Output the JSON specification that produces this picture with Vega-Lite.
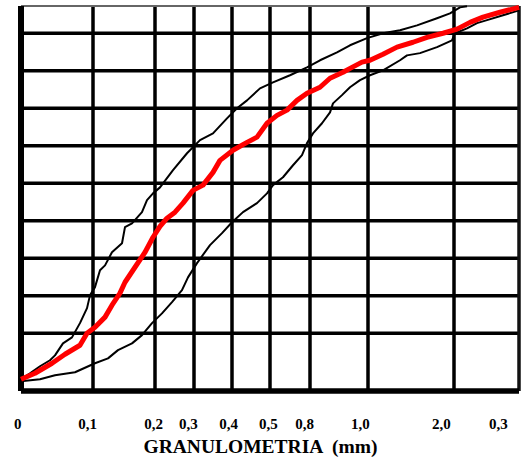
{
  "$schema": "https://vega.github.io/schema/vega-lite/v6.json",
  "width": 498,
  "height": 385,
  "autosize": {"type": "none"},
  "padding": {"left": 21, "top": 6, "right": 8, "bottom": 75},
  "background": "white",
  "config": {"view": {"stroke": null}},
  "datasets": {
    "curves": [
      {"curva": "media", "d": 0, "p": -2.27},
      {"curva": "media", "d": 0.0194, "p": -0.67},
      {"curva": "media", "d": 0.0431, "p": 2.0},
      {"curva": "media", "d": 0.0611, "p": 4.4},
      {"curva": "media", "d": 0.0819, "p": 6.8},
      {"curva": "media", "d": 0.0917, "p": 10.0},
      {"curva": "media", "d": 0.1032, "p": 11.6},
      {"curva": "media", "d": 0.1194, "p": 14.3},
      {"curva": "media", "d": 0.1306, "p": 17.5},
      {"curva": "media", "d": 0.1435, "p": 20.7},
      {"curva": "media", "d": 0.1516, "p": 23.6},
      {"curva": "media", "d": 0.1677, "p": 27.6},
      {"curva": "media", "d": 0.1839, "p": 31.6},
      {"curva": "media", "d": 0.1968, "p": 35.6},
      {"curva": "media", "d": 0.2128, "p": 38.5},
      {"curva": "media", "d": 0.2308, "p": 40.7},
      {"curva": "media", "d": 0.2513, "p": 42.3},
      {"curva": "media", "d": 0.2718, "p": 44.7},
      {"curva": "media", "d": 0.2974, "p": 48.1},
      {"curva": "media", "d": 0.3237, "p": 49.5},
      {"curva": "media", "d": 0.35, "p": 52.9},
      {"curva": "media", "d": 0.3684, "p": 56.1},
      {"curva": "media", "d": 0.4026, "p": 58.8},
      {"curva": "media", "d": 0.4395, "p": 60.9},
      {"curva": "media", "d": 0.4658, "p": 62.3},
      {"curva": "media", "d": 0.4921, "p": 66.0},
      {"curva": "media", "d": 0.5525, "p": 68.1},
      {"curva": "media", "d": 0.6275, "p": 69.5},
      {"curva": "media", "d": 0.7025, "p": 72.1},
      {"curva": "media", "d": 0.7775, "p": 74.0},
      {"curva": "media", "d": 0.8345, "p": 75.6},
      {"curva": "media", "d": 0.869, "p": 78.0},
      {"curva": "media", "d": 0.9138, "p": 79.6},
      {"curva": "media", "d": 0.9448, "p": 80.9},
      {"curva": "media", "d": 0.9793, "p": 82.3},
      {"curva": "media", "d": 1.0233, "p": 82.8},
      {"curva": "media", "d": 1.1744, "p": 84.4},
      {"curva": "media", "d": 1.3372, "p": 86.3},
      {"curva": "media", "d": 1.5233, "p": 87.6},
      {"curva": "media", "d": 1.686, "p": 88.9},
      {"curva": "media", "d": 1.8721, "p": 90.0},
      {"curva": "media", "d": 2.0462, "p": 91.1},
      {"curva": "media", "d": 2.2462, "p": 92.9},
      {"curva": "media", "d": 2.4462, "p": 94.3},
      {"curva": "media", "d": 2.7077, "p": 95.6},
      {"curva": "media", "d": 3.0, "p": 96.9},
      {"curva": "superior", "d": 0, "p": -2.3},
      {"curva": "superior", "d": 0.0125, "p": -0.7},
      {"curva": "superior", "d": 0.0264, "p": 1.2},
      {"curva": "superior", "d": 0.0403, "p": 2.8},
      {"curva": "superior", "d": 0.0472, "p": 4.1},
      {"curva": "superior", "d": 0.0583, "p": 7.3},
      {"curva": "superior", "d": 0.0708, "p": 8.9},
      {"curva": "superior", "d": 0.0819, "p": 12.7},
      {"curva": "superior", "d": 0.0917, "p": 16.7},
      {"curva": "superior", "d": 0.0958, "p": 20.1},
      {"curva": "superior", "d": 0.1032, "p": 22.3},
      {"curva": "superior", "d": 0.1113, "p": 26.8},
      {"curva": "superior", "d": 0.1194, "p": 28.1},
      {"curva": "superior", "d": 0.1306, "p": 31.6},
      {"curva": "superior", "d": 0.1468, "p": 34.0},
      {"curva": "superior", "d": 0.1516, "p": 38.3},
      {"curva": "superior", "d": 0.1629, "p": 39.3},
      {"curva": "superior", "d": 0.179, "p": 42.3},
      {"curva": "superior", "d": 0.1871, "p": 45.5},
      {"curva": "superior", "d": 0.1968, "p": 47.3},
      {"curva": "superior", "d": 0.2128, "p": 48.9},
      {"curva": "superior", "d": 0.2462, "p": 53.5},
      {"curva": "superior", "d": 0.2821, "p": 58.0},
      {"curva": "superior", "d": 0.3158, "p": 61.5},
      {"curva": "superior", "d": 0.35, "p": 63.3},
      {"curva": "superior", "d": 0.3868, "p": 67.3},
      {"curva": "superior", "d": 0.4132, "p": 70.0},
      {"curva": "superior", "d": 0.4395, "p": 72.1},
      {"curva": "superior", "d": 0.4737, "p": 75.3},
      {"curva": "superior", "d": 0.5225, "p": 76.9},
      {"curva": "superior", "d": 0.65, "p": 78.8},
      {"curva": "superior", "d": 0.7775, "p": 80.9},
      {"curva": "superior", "d": 0.8345, "p": 82.8},
      {"curva": "superior", "d": 0.8931, "p": 84.9},
      {"curva": "superior", "d": 0.9379, "p": 86.8},
      {"curva": "superior", "d": 0.9966, "p": 88.7},
      {"curva": "superior", "d": 1.1744, "p": 90.0},
      {"curva": "superior", "d": 1.3721, "p": 90.8},
      {"curva": "superior", "d": 1.5698, "p": 92.1},
      {"curva": "superior", "d": 1.8023, "p": 94.0},
      {"curva": "superior", "d": 1.9535, "p": 95.3},
      {"curva": "superior", "d": 2.0923, "p": 96.9},
      {"curva": "superior", "d": 2.2, "p": 97.2},
      {"curva": "inferior", "d": 0, "p": -2.8},
      {"curva": "inferior", "d": 0.0264, "p": -2.27},
      {"curva": "inferior", "d": 0.0472, "p": -1.2},
      {"curva": "inferior", "d": 0.075, "p": -0.4},
      {"curva": "inferior", "d": 0.1032, "p": 2.0},
      {"curva": "inferior", "d": 0.1242, "p": 3.3},
      {"curva": "inferior", "d": 0.1403, "p": 5.5},
      {"curva": "inferior", "d": 0.1629, "p": 7.3},
      {"curva": "inferior", "d": 0.179, "p": 9.5},
      {"curva": "inferior", "d": 0.1952, "p": 12.7},
      {"curva": "inferior", "d": 0.2179, "p": 15.3},
      {"curva": "inferior", "d": 0.2436, "p": 18.3},
      {"curva": "inferior", "d": 0.2692, "p": 21.5},
      {"curva": "inferior", "d": 0.2846, "p": 24.9},
      {"curva": "inferior", "d": 0.3079, "p": 28.7},
      {"curva": "inferior", "d": 0.3421, "p": 33.5},
      {"curva": "inferior", "d": 0.3737, "p": 36.7},
      {"curva": "inferior", "d": 0.4, "p": 39.6},
      {"curva": "inferior", "d": 0.4289, "p": 42.3},
      {"curva": "inferior", "d": 0.4658, "p": 44.7},
      {"curva": "inferior", "d": 0.4921, "p": 47.3},
      {"curva": "inferior", "d": 0.5225, "p": 49.5},
      {"curva": "inferior", "d": 0.5975, "p": 51.6},
      {"curva": "inferior", "d": 0.6725, "p": 54.8},
      {"curva": "inferior", "d": 0.74, "p": 57.5},
      {"curva": "inferior", "d": 0.7775, "p": 60.7},
      {"curva": "inferior", "d": 0.8103, "p": 63.3},
      {"curva": "inferior", "d": 0.8414, "p": 66.0},
      {"curva": "inferior", "d": 0.869, "p": 68.9},
      {"curva": "inferior", "d": 0.8793, "p": 71.3},
      {"curva": "inferior", "d": 0.9103, "p": 73.5},
      {"curva": "inferior", "d": 0.9379, "p": 75.6},
      {"curva": "inferior", "d": 0.9724, "p": 77.5},
      {"curva": "inferior", "d": 1.0233, "p": 78.8},
      {"curva": "inferior", "d": 1.1744, "p": 80.1},
      {"curva": "inferior", "d": 1.3721, "p": 82.8},
      {"curva": "inferior", "d": 1.4535, "p": 84.1},
      {"curva": "inferior", "d": 1.6047, "p": 84.7},
      {"curva": "inferior", "d": 1.8023, "p": 86.3},
      {"curva": "inferior", "d": 1.9767, "p": 88.1},
      {"curva": "inferior", "d": 2.0154, "p": 90.0},
      {"curva": "inferior", "d": 2.2, "p": 91.3},
      {"curva": "inferior", "d": 2.3538, "p": 92.7},
      {"curva": "inferior", "d": 2.5077, "p": 93.5},
      {"curva": "inferior", "d": 2.7538, "p": 94.8},
      {"curva": "inferior", "d": 3.0, "p": 96.1}
    ]
  },
  "layer": [
    {
      "data": {"values": [{"d": 0.1}, {"d": 0.2}, {"d": 0.3}, {"d": 0.4}, {"d": 0.5}, {"d": 0.8}, {"d": 1.0}, {"d": 2.0}]},
      "mark": {"type": "rule", "color": "black", "strokeWidth": 3.5},
      "encoding": {
        "x": {
          "field": "d", "type": "quantitative",
          "scale": {"domain": [0, 0.1, 0.2, 0.3, 0.4, 0.5, 0.8, 1.0, 2.0, 3.0], "range": [0, 72, 134, 173, 211, 249, 289, 347, 433, 498], "nice": false, "zero": false},
          "axis": {
            "title": "GRANULOMETRIA \u00a0(mm)",
            "values": [0, 0.0917, 0.1968, 0.2846, 0.3895, 0.4947, 0.755, 0.9724, 1.8488, 2.6769],
            "labelExpr": "datum.value < 0.05 ? '0' : datum.value < 0.15 ? '0,1' : datum.value < 0.25 ? '0,2' : datum.value < 0.35 ? '0,3' : datum.value < 0.45 ? '0,4' : datum.value < 0.6 ? '0,5' : datum.value < 0.9 ? '0,8' : datum.value < 1.5 ? '1,0' : datum.value < 2.3 ? '2,0' : '0,3'",
            "labelAlign": {"condition": {"test": "datum.value < 0.01", "value": "right"}, "value": "center"},
            "labelFlush": false,
            "labelOverlap": false,
            "labelFont": "Liberation Serif",
            "labelFontWeight": "bold",
            "labelFontSize": 15,
            "labelColor": "black",
            "labelBaseline": "alphabetic",
            "labelPadding": 37,
            "ticks": false,
            "tickSize": 0,
            "domain": false,
            "grid": false,
            "titleFont": "Liberation Serif",
            "titleFontWeight": "bold",
            "titleFontSize": 19.5,
            "titleColor": "black",
            "titleBaseline": "alphabetic",
            "titleAlign": "center",
            "titleX": 239,
            "titleY": 61
          }
        }
      }
    },
    {
      "data": {"values": [{"p": 10}, {"p": 20}, {"p": 30}, {"p": 40}, {"p": 50}, {"p": 60}, {"p": 70}, {"p": 80}, {"p": 90}]},
      "mark": {"type": "rule", "color": "black", "strokeWidth": 3.5},
      "encoding": {
        "y": {"field": "p", "type": "quantitative", "scale": {"domain": [-5.4, 97.27], "nice": false, "zero": false}, "axis": null}
      }
    },
    {
      "data": {"values": [{"d": 3.0}]},
      "mark": {"type": "rule", "color": "#111111", "strokeWidth": 3.5},
      "encoding": {
        "x": {"field": "d", "type": "quantitative", "scale": {"domain": [0, 0.1, 0.2, 0.3, 0.4, 0.5, 0.8, 1.0, 2.0, 3.0], "range": [0, 72, 134, 173, 211, 249, 289, 347, 433, 498], "nice": false, "zero": false}}
      }
    },
    {
      "data": {"values": [{"p": 97.27}]},
      "mark": {"type": "rule", "color": "#666666", "strokeWidth": 2},
      "encoding": {
        "y": {"field": "p", "type": "quantitative", "scale": {"domain": [-5.4, 97.27], "nice": false, "zero": false}, "axis": null}
      }
    },
    {
      "data": {"values": [{"p": -5.4}]},
      "mark": {"type": "rule", "color": "black", "strokeWidth": 5.5},
      "encoding": {
        "y": {"field": "p", "type": "quantitative", "scale": {"domain": [-5.4, 97.27], "nice": false, "zero": false}, "axis": null}
      }
    },
    {
      "data": {"values": [{"d": 0}]},
      "mark": {"type": "rule", "color": "black", "strokeWidth": 6},
      "encoding": {
        "x": {"field": "d", "type": "quantitative", "scale": {"domain": [0, 0.1, 0.2, 0.3, 0.4, 0.5, 0.8, 1.0, 2.0, 3.0], "range": [0, 72, 134, 173, 211, 249, 289, 347, 433, 498], "nice": false, "zero": false}}
      }
    },
    {
      "data": {"name": "curves"},
      "transform": [{"filter": "datum.curva !== 'media'"}],
      "mark": {"type": "line", "color": "black", "strokeWidth": 2, "strokeJoin": "round"},
      "encoding": {
        "x": {"field": "d", "type": "quantitative", "scale": {"domain": [0, 0.1, 0.2, 0.3, 0.4, 0.5, 0.8, 1.0, 2.0, 3.0], "range": [0, 72, 134, 173, 211, 249, 289, 347, 433, 498], "nice": false, "zero": false}},
        "y": {"field": "p", "type": "quantitative", "scale": {"domain": [-5.4, 97.27], "nice": false, "zero": false}, "axis": null},
        "detail": {"field": "curva"}
      }
    },
    {
      "data": {"name": "curves"},
      "transform": [{"filter": "datum.curva === 'media'"}],
      "mark": {"type": "line", "color": "#ff0000", "strokeWidth": 5, "strokeJoin": "round"},
      "encoding": {
        "x": {"field": "d", "type": "quantitative", "scale": {"domain": [0, 0.1, 0.2, 0.3, 0.4, 0.5, 0.8, 1.0, 2.0, 3.0], "range": [0, 72, 134, 173, 211, 249, 289, 347, 433, 498], "nice": false, "zero": false}},
        "y": {"field": "p", "type": "quantitative", "scale": {"domain": [-5.4, 97.27], "nice": false, "zero": false}, "axis": null}
      }
    }
  ]
}
